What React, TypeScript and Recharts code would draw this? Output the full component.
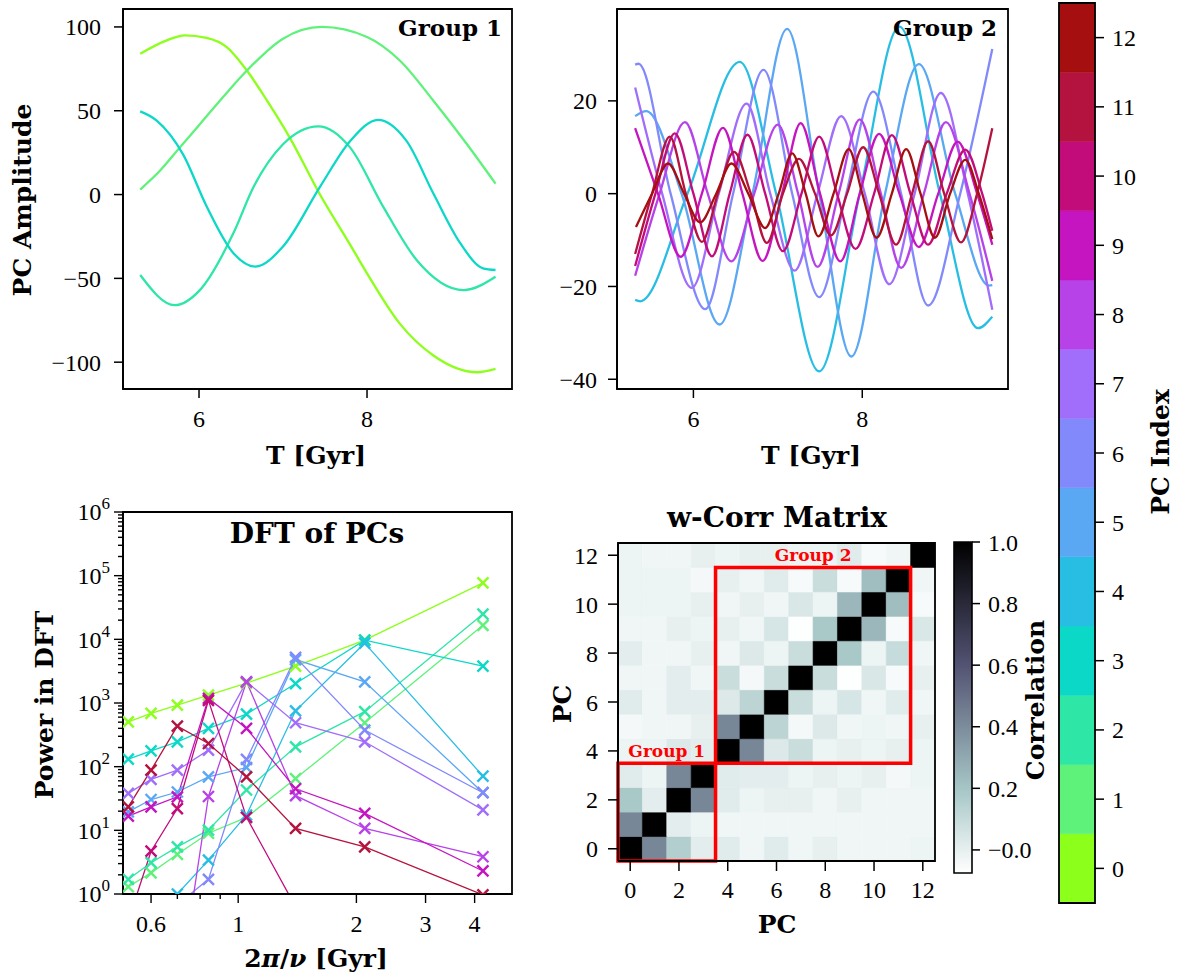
import React from 'react';
import { LineChart, Line, XAxis, YAxis, ReferenceArea, ComposedChart, Scatter } from 'recharts';

const serif = '"Liberation Serif", serif';
const bold = '"DejaVu Serif", serif';

// colour of each PC index (0..12)
const pcColors = [
  '#8cff1a', '#5ef27a', '#2ee6a6', '#0cd8c8', '#28bee4', '#5aa7f4', '#8289fb',
  '#a06efa', '#b742e8', '#c515c0', '#c20c7a', '#b5133f', '#a50f0f',
];
const pcIndex = [0, 1, 2, 3, 4, 5, 6, 7, 8, 9, 10, 11, 12];

// ---- Group 1 amplitudes [T (Gyr), amplitude]
const pc0Curve = [[5.3, 84], [5.615, 92], [5.83, 95], [6.09, 93.5], [6.33, 88], [6.57, 74], [6.81, 56], [7.08, 34], [7.44, 0], [7.8, -30], [8.0, -47], [8.39, -77], [8.79, -96], [9.31, -106], [9.53, -104]];
const pc1Curve = [[5.3, 3], [5.54, 14.5], [5.77, 28], [6.01, 42], [6.3, 59], [6.57, 74], [7.0, 93], [7.46, 100], [8.0, 94], [8.39, 80], [8.79, 56], [9.19, 30], [9.53, 6.5]];
const pc2Curve = [[5.3, -48], [5.71, -66], [6.01, -57], [6.41, -23], [6.65, 4.6], [7.0, 30], [7.42, 40.7], [7.8, 28], [8.19, -7], [8.59, -39], [9.15, -57], [9.53, -49]];
const pc3Curve = [[5.3, 49.6], [5.5, 44], [5.81, 24], [6.09, -7], [6.41, -35], [6.67, -43], [7.0, -31], [7.44, 4.6], [7.8, 32], [8.13, 44.6], [8.47, 32], [8.79, 0.6], [9.11, -29], [9.38, -44], [9.53, -45]];

// ---- Group 2 amplitudes (+ PC 12)
const pc4Curve = [[5.31, -22.9], [5.37, -23.2], [5.93, 0], [6.55, 28.4], [6.98, 0], [7.49, -38.3], [7.97, 0], [8.44, 36], [8.92, 0], [9.37, -29], [9.54, -26.5]];
const pc5Curve = [[5.31, 16.7], [5.44, 17.8], [5.86, 0], [6.31, -28.2], [6.7, 0], [7.11, 35.5], [7.49, 0], [7.87, -35.1], [8.27, 0], [8.67, 27.9], [9.1, 0], [9.5, -19.8], [9.54, -19.7]];
const pc6Curve = [[5.31, 27.8], [5.35, 28], [5.73, 0], [6.14, -24.9], [6.47, 0], [6.83, 26.7], [7.17, 0], [7.49, -22.3], [7.81, 0], [8.13, 22], [8.46, 0], [8.78, -24.1], [9.16, 0], [9.54, 31.2]];
const pc7Curve = [[5.31, 22.9], [5.63, 0], [5.98, -20.3], [6.3, 0], [6.63, 19.4], [6.91, 0], [7.2, -16.6], [7.47, 0], [7.75, 16.7], [8.03, 0], [8.32, -19.5], [8.62, 0], [8.93, 21.7], [9.25, 0], [9.54, -25]];
const pc8Curve = [[5.31, -17.7], [5.6, 0], [5.9, 15.4], [6.17, 0], [6.45, -14.6], [6.72, 0], [7.0, 14.9], [7.24, 0], [7.47, -15.8], [7.72, 0], [7.97, 16], [8.22, 0], [8.46, -16], [8.73, 0], [8.99, 15.4], [9.27, 0], [9.54, -18.8]];
const pc9Curve = [[5.31, 14.1], [5.58, 0], [5.85, -13.6], [6.1, 0], [6.35, 14.2], [6.58, 0], [6.82, -14.5], [7.05, 0], [7.27, 15.2], [7.5, 0], [7.74, -14.6], [7.97, 0], [8.2, 12.9], [8.44, 0], [8.67, -11.5], [8.9, 0], [9.13, 11.2], [9.36, 0], [9.54, -11]];
const pc10Curve = [[5.31, -15.6], [5.55, 0], [5.78, 13], [6.0, 0], [6.22, -13.5], [6.43, 0], [6.64, 12.7], [6.85, 0], [7.06, -12.4], [7.28, 0], [7.49, 12.3], [7.7, 0], [7.92, -11.9], [8.14, 0], [8.35, 12.6], [8.57, 0], [8.78, -11], [9.0, 0], [9.22, 9.5], [9.42, 0], [9.54, -8]];
const pc11Curve = [[5.31, -13], [5.51, 0], [5.72, 12.3], [5.91, 0], [6.1, -10.4], [6.29, 0], [6.48, 9], [6.68, 0], [6.87, -10.6], [7.06, 0], [7.25, 7.5], [7.44, 0], [7.63, -9], [7.82, 0], [8.01, 10], [8.2, 0], [8.4, -11], [8.59, 0], [8.78, 11.3], [8.97, 0], [9.17, -10.5], [9.36, 0], [9.54, 14.1]];
const pc12Curve = [[5.32, -7.2], [5.51, 0], [5.7, 6.5], [5.89, 0], [6.08, -6.2], [6.27, 0], [6.45, 6.5], [6.65, 0], [6.85, -7.4], [7.01, 0], [7.17, 8.7], [7.33, 0], [7.48, -9.2], [7.66, 0], [7.84, 9.6], [8.0, 0], [8.17, -9.5], [8.35, 0], [8.52, 9.6], [8.69, 0], [8.86, -9.5], [9.04, 0], [9.22, 7.3], [9.38, 0], [9.54, -9.8]];

const group1Curves = [pc0Curve, pc1Curve, pc2Curve, pc3Curve];
const group2Curves = [pc4Curve, pc5Curve, pc6Curve, pc7Curve, pc8Curve, pc9Curve, pc10Curve, pc11Curve, pc12Curve];

// ---- DFT power at each period 2pi/nu (Gyr)
const dftPeriods = [0.525, 0.6, 0.7, 0.84, 1.05, 1.4, 2.1, 4.2];
const pc0Dft = [507, 685, 927, 1330, 2050, 3800, 9700, 77000];
const pc1Dft = [1.3, 2.15, 4.2, 9, 16, 65, 490, 16600];
const pc2Dft = [1.7, 3.1, 5.5, 10.1, 43, 205, 730, 24900];
const pc3Dft = [131, 177, 246, 400, 670, 2020, 9700, 3800];
const pc4Dft = [0.3, 0.5, 1.0, 3.4, 17.4, 754, 8700, 71];
const pc5Dft = [19.5, 30.5, 40, 69, 97, 4800, 2150, 39];
const pc6Dft = [0.2, 0.3, 0.68, 1.7, 130, 5200, 376, 39];
const pc7Dft = [38, 63, 88, 182, 2150, 490, 246, 21];
const pc8Dft = [0.1, 0.05, 0.02, 34, 2150, 35, 10.7, 3.85];
const pc9Dft = [16.7, 23.4, 33.6, 1180, 400, 45, 18.5, 2.3];
const pc10Dft = [0.38, 4.7, 22, 1100, 16, 0.63, 0.3, 0.2];
const pc11Dft = [23.4, 88, 434, 231, 69, 10.7, 5.5, 0.97];
const dftSeries = [pc0Dft, pc1Dft, pc2Dft, pc3Dft, pc4Dft, pc5Dft, pc6Dft, pc7Dft, pc8Dft, pc9Dft, pc10Dft, pc11Dft];

const dftRows = dftPeriods.map((p, i) => {
  const row: Record<string, number> = { p };
  dftSeries.forEach((s, k) => { row[`pc${k}`] = s[i]; });
  return row;
});

const decadeTicks = [1, 10, 100, 1000, 10000, 100000, 1000000];
const minorSteps = [2, 3, 4, 5, 6, 7, 8, 9];
const powerTicks = decadeTicks.flatMap((d) => (d < 1000000 ? [d, ...minorSteps.map((m) => m * d)] : [d]));
const periodTicks = [0.6, 0.7, 0.8, 0.9, 1, 2, 3, 4];
const periodLabels = [0.6, 1, 2, 3, 4];

// ---- w-correlation matrix, rows PC 0..12, columns PC 0..12
const corrRow0 = [1.0, 0.42, 0.16, 0.01, 0.02, -0.03, 0.02, -0.03, 0.0, -0.03, -0.03, -0.03, -0.02];
const corrRow1 = [0.42, 1.0, 0.01, -0.02, -0.03, -0.03, -0.03, -0.03, -0.03, -0.03, -0.03, -0.03, -0.03];
const corrRow2 = [0.19, 0.01, 1.0, 0.42, 0.02, -0.02, 0.0, 0.0, -0.03, 0.0, -0.03, -0.03, -0.03];
const corrRow3 = [0.02, -0.02, 0.42, 1.0, 0.02, 0.01, 0.01, -0.02, 0.0, -0.02, 0.0, -0.04, -0.02];
const corrRow4 = [-0.02, -0.02, 0.03, 0.01, 1.0, 0.42, 0.03, 0.09, -0.02, 0.0, -0.02, 0.0, -0.02];
const corrRow5 = [-0.04, -0.03, -0.03, 0.0, 0.42, 1.0, 0.13, -0.04, 0.03, -0.03, -0.02, -0.03, 0.0];
const corrRow6 = [0.02, -0.03, 0.01, 0.01, 0.03, 0.13, 1.0, 0.09, -0.02, 0.05, -0.03, 0.02, -0.03];
const corrRow7 = [-0.03, -0.03, 0.01, -0.03, 0.09, -0.04, 0.09, 1.0, 0.09, -0.07, 0.04, -0.05, 0.0];
const corrRow8 = [0.01, -0.03, -0.03, 0.0, -0.03, 0.03, -0.02, 0.09, 1.0, 0.19, -0.02, 0.1, -0.03];
const corrRow9 = [-0.03, -0.03, 0.0, -0.02, 0.0, -0.03, 0.05, -0.07, 0.19, 1.0, 0.25, -0.05, 0.04];
const corrRow10 = [-0.02, -0.02, -0.02, 0.0, -0.03, 0.0, -0.03, 0.04, -0.02, 0.25, 1.0, 0.23, -0.05];
const corrRow11 = [-0.02, -0.02, -0.02, -0.04, 0.0, -0.03, 0.02, -0.05, 0.09, -0.05, 0.23, 1.0, -0.03];
const corrRow12 = [-0.02, -0.03, -0.03, 0.0, -0.02, 0.0, 0.0, -0.02, -0.02, 0.02, -0.05, -0.03, 1.0];
const corrRows = [corrRow0, corrRow1, corrRow2, corrRow3, corrRow4, corrRow5, corrRow6, corrRow7, corrRow8, corrRow9, corrRow10, corrRow11, corrRow12];
const corrCells = corrRows.flatMap((row, y) => row.map((v, x) => ({ x, y, v })));
const corrMin = -0.075;
const corrMax = 1.0;
const corrTicks = [0, 0.2, 0.4, 0.6, 0.8, 1.0];
const pcTicks = [0, 2, 4, 6, 8, 10, 12];
const groups = [
  { name: 'Group 1', from: 0, to: 3 },
  { name: 'Group 2', from: 4, to: 11 },
];

// matplotlib "bone" colormap
const bone = (s: number) => {
  const r = s <= 0.746032 ? (s / 0.746032) * 0.652778 : 0.652778 + ((s - 0.746032) / 0.253968) * 0.347222;
  const g = s <= 0.365079 ? (s / 0.365079) * 0.319444
    : s <= 0.746032 ? 0.319444 + ((s - 0.365079) / 0.380953) * 0.458334
      : 0.777778 + ((s - 0.746032) / 0.253968) * 0.222222;
  const b = s <= 0.365079 ? (s / 0.365079) * 0.444444 : 0.444444 + ((s - 0.365079) / 0.634921) * 0.555556;
  return `rgb(${Math.round(r * 255)},${Math.round(g * 255)},${Math.round(b * 255)})`;
};
const corrColor = (v: number) => bone(1 - (v - corrMin) / (corrMax - corrMin));

const toPts = (a: number[][]) => a.map(([t, v]) => ({ t, v }));
const minus = (v: number) => (v < 0 ? `\u2212${-v}` : `${v}`);
const tickFont = { fill: '#000', fontSize: 24, fontFamily: serif };
const axisLine = { stroke: '#000', strokeWidth: 1.8 };
const tickLine = { stroke: '#000', strokeWidth: 1.5 };
const chartBox: React.CSSProperties = { position: 'absolute', fontFamily: serif, fontSize: 24 };

const label = (x: number, y: number, size: number, rotate = false): React.CSSProperties => ({
  position: 'absolute', left: x, top: y, whiteSpace: 'nowrap', fontFamily: bold, fontWeight: 'bold',
  fontSize: size, lineHeight: 1, color: '#000',
  transform: `translate(-50%, -50%)${rotate ? ' rotate(-90deg)' : ''}`,
});

const XTick = 9;
const XMinor = 5;
const LogYTick = (props: any) => {
  const { x, y, payload } = props;
  const e = Math.log10(payload.value);
  const major = Math.abs(e - Math.round(e)) < 1e-9;
  const ax = x + 9 + 4;
  return (
    <g>
      <line x1={ax - (major ? XTick : XMinor)} x2={ax} y1={y} y2={y} stroke="#000" strokeWidth={1.4} />
      {major && (
        <text x={x} y={y} dy="0.35em" textAnchor="end" fontFamily={serif} fontSize={24} fill="#000">
          10<tspan dy={-11} fontSize={17}>{Math.round(e)}</tspan>
        </text>
      )}
    </g>
  );
};
const LogXTick = (props: any) => {
  const { x, y, payload } = props;
  const v = payload.value;
  const labelled = periodLabels.includes(v);
  const ay = y - 9 - 12;
  return (
    <g>
      <line x1={x} x2={x} y1={ay} y2={ay + (labelled ? XTick : XMinor)} stroke="#000" strokeWidth={1.4} />
      {labelled && (
        <text x={x} y={y} dy="0.71em" textAnchor="middle" fontFamily={serif} fontSize={24} fill="#000">{v}</text>
      )}
    </g>
  );
};

const XMark = (color: string) => (props: any) => {
  const { cx, cy, index } = props;
  if (cx == null || cy == null) return <g key={index} />;
  const s = 5.5;
  return (
    <path key={index} d={`M${cx - s},${cy - s}L${cx + s},${cy + s}M${cx - s},${cy + s}L${cx + s},${cy - s}`}
      stroke={color} strokeWidth={2.4} fill="none" />
  );
};

const GroupLabel = (text: string) => (props: any) => {
  const vb = props.viewBox;
  return (
    <text x={vb.x + vb.width / 2} y={vb.y - 6} textAnchor="middle" fill="#ff0000"
      fontFamily={bold} fontWeight="bold" fontSize={17}>{text}</text>
  );
};

function TimePanel({ curves, first, domainY, ticksY, left, plotLeft, rightPad, tickMargin }: any) {
  const dom = [5.095, 9.726];
  return (
    <div style={{ ...chartBox, left, top: 0 }}>
      <LineChart width={530} height={470} margin={{ top: 9, right: rightPad, bottom: 0, left: 0 }}>
        <XAxis dataKey="t" type="number" domain={dom} ticks={[6, 8]} allowDataOverflow interval={0}
          height={81} tick={tickFont} tickSize={9} tickMargin={12} axisLine={axisLine} tickLine={tickLine} />
        <YAxis type="number" domain={domainY} ticks={ticksY} allowDataOverflow interval={0} width={plotLeft}
          tick={tickFont} tickSize={9} tickMargin={tickMargin} tickFormatter={minus} axisLine={axisLine} tickLine={tickLine} />
        {curves.map((c: number[][], i: number) => (
          <Line key={i} data={toPts(c)} dataKey="v" type="monotone" stroke={pcColors[first + i]}
            strokeWidth={2.3} dot={false} isAnimationActive={false} />
        ))}
        <ReferenceArea x1={dom[0]} x2={dom[1]} y1={domainY[0]} y2={domainY[1]} fill="none" fillOpacity={0}
          stroke="#000" strokeWidth={1.8} ifOverflow="visible" />
      </LineChart>
    </div>
  );
}

export default function App() {
  return (
    <div style={{ position: 'absolute', left: 0, top: 0, width: 1177, height: 976, background: '#fff' }}>
      <TimePanel curves={group1Curves} first={0} domainY={[-116, 110.7]} ticksY={[-100, -50, 0, 50, 100]}
        left={0} plotLeft={123} rightPad={18} tickMargin={13} />
      <TimePanel curves={group2Curves} first={4} domainY={[-42.1, 39.8]} ticksY={[-40, -20, 0, 20]}
        left={530} plotLeft={87} rightPad={52} tickMargin={11} />

      <div style={label(22, 200, 25, true)}>PC Amplitude</div>
      <div style={label(316, 455, 25)}>T [Gyr]</div>
      <div style={label(811, 455, 25)}>T [Gyr]</div>
      <div style={{ ...label(502, 27, 23), transform: 'translate(-100%, -50%)' }}>Group 1</div>
      <div style={{ ...label(997, 27, 23), transform: 'translate(-100%, -50%)' }}>Group 2</div>

      {/* DFT of PCs */}
      <div style={{ ...chartBox, left: 0, top: 470 }}>
        <LineChart width={530} height={506} data={dftRows} margin={{ top: 42, right: 18, bottom: 0, left: 0 }}>
          <XAxis dataKey="p" type="number" scale="log" domain={[0.509, 4.98]} allowDataOverflow ticks={periodTicks}
            interval={0} height={82} tick={LogXTick} tickSize={9} tickMargin={12} tickLine={false} axisLine={axisLine} />
          <YAxis type="number" scale="log" domain={[1, 1000000]} allowDataOverflow ticks={powerTicks} interval={0}
            width={123} tick={LogYTick} tickSize={9} tickMargin={4} tickLine={false} axisLine={axisLine} />
          {dftSeries.map((_, k) => (
            <Line key={k} dataKey={`pc${k}`} type="linear" stroke={pcColors[k]} strokeWidth={1.3}
              dot={XMark(pcColors[k])} isAnimationActive={false} />
          ))}
          <ReferenceArea x1={0.509} x2={4.98} y1={1} y2={1000000} fill="none" fillOpacity={0}
            stroke="#000" strokeWidth={1.8} ifOverflow="visible" />
        </LineChart>
      </div>
      <div style={label(317, 534, 28)}>DFT of PCs</div>
      <div style={label(44, 705, 25, true)}>Power in DFT</div>
      <div style={label(316, 958, 25)}>2<i>π</i>/<i>ν</i> [Gyr]</div>

      {/* w-Corr matrix */}
      <div style={{ ...chartBox, left: 530, top: 470 }}>
        <ComposedChart width={430} height={506} margin={{ top: 73, right: 25, bottom: 0, left: 0 }}>
          <XAxis dataKey="x" type="number" domain={[-0.5, 12.5]} ticks={pcTicks} interval={0} allowDataOverflow
            height={115} tick={tickFont} tickSize={10} tickMargin={10} axisLine={axisLine} tickLine={tickLine} />
          <YAxis dataKey="y" type="number" domain={[-0.5, 12.5]} ticks={pcTicks} interval={0} allowDataOverflow
            width={88} tick={tickFont} tickSize={10} tickMargin={10} axisLine={axisLine} tickLine={tickLine} />
          {corrCells.map((c) => (
            <ReferenceArea key={`${c.x}-${c.y}`} x1={c.x - 0.5} x2={c.x + 0.5} y1={c.y - 0.5} y2={c.y + 0.5}
              fill={corrColor(c.v)} fillOpacity={1} stroke={corrColor(c.v)} strokeWidth={0.6} ifOverflow="visible" />
          ))}
          <ReferenceArea x1={-0.5} x2={12.5} y1={-0.5} y2={12.5} fill="none" fillOpacity={0}
            stroke="#000" strokeWidth={1.8} ifOverflow="visible" />
          {groups.map((g) => (
            <ReferenceArea key={g.name} x1={g.from - 0.5} x2={g.to + 0.5} y1={g.from - 0.5} y2={g.to + 0.5}
              fill="none" fillOpacity={0} stroke="#ff0000" strokeWidth={3.5} ifOverflow="visible"
              label={GroupLabel(g.name)} />
          ))}
          <Scatter data={corrCells} dataKey="y" shape={() => <g />} isAnimationActive={false} />
        </ComposedChart>
      </div>
      <div style={label(777, 518, 28)}>w-Corr Matrix</div>
      <div style={label(562, 704, 25, true)}>PC</div>
      <div style={label(777, 924, 25)}>PC</div>

      {/* correlation colour bar */}
      <div style={{ ...chartBox, left: 930, top: 530 }}>
        <ComposedChart width={110} height={360} margin={{ top: 12, right: 0, bottom: 17, left: 24 }}>
          <defs>
            <linearGradient id="boneBar" x1="0" y1="0" x2="0" y2="1">
              <stop offset="0" stopColor={bone(0)} />
              <stop offset="0.365079" stopColor={bone(0.365079)} />
              <stop offset="0.746032" stopColor={bone(0.746032)} />
              <stop offset="1" stopColor={bone(1)} />
            </linearGradient>
          </defs>
          <XAxis dataKey="x" type="number" domain={[0, 1]} hide />
          <YAxis dataKey="y" orientation="right" type="number" domain={[corrMin, corrMax]} ticks={corrTicks} interval={0}
            allowDataOverflow width={68} tick={tickFont} tickSize={8} tickMargin={8} axisLine={false} tickLine={tickLine}
            tickFormatter={(v: number) => (v === 0 ? '\u22120.0' : v.toFixed(1))} />
          <ReferenceArea x1={0} x2={1} y1={corrMin} y2={corrMax} fill="url(#boneBar)" fillOpacity={1}
            stroke="#000" strokeWidth={1.6} />
          <Scatter data={[{ x: 0.5, y: 0.5 }]} shape={() => <g />} isAnimationActive={false} />
        </ComposedChart>
      </div>
      <div style={label(1035, 700, 25, true)}>Correlation</div>

      {/* PC index colour bar */}
      <div style={{ ...chartBox, left: 1040, top: 0 }}>
        <ComposedChart width={137} height={976} margin={{ top: 3, right: 0, bottom: 73, left: 19 }}>
          <XAxis dataKey="x" type="number" domain={[0, 1]} hide />
          <YAxis dataKey="y" orientation="right" type="number" domain={[-0.5, 12.5]} ticks={pcIndex} interval={0}
            allowDataOverflow width={82} tick={tickFont} tickSize={9} tickMargin={8} axisLine={false} tickLine={tickLine} />
          {pcIndex.map((i) => (
            <ReferenceArea key={i} x1={0} x2={1} y1={i - 0.5} y2={i + 0.5} fill={pcColors[i]} fillOpacity={1}
              stroke={pcColors[i]} strokeWidth={0.5} />
          ))}
          <ReferenceArea x1={0} x2={1} y1={-0.5} y2={12.5} fill="none" fillOpacity={0} stroke="#000" strokeWidth={1.8} />
          <Scatter data={[{ x: 0.5, y: 0 }]} shape={() => <g />} isAnimationActive={false} />
        </ComposedChart>
      </div>
      <div style={label(1160, 452, 25, true)}>PC Index</div>
    </div>
  );
}
